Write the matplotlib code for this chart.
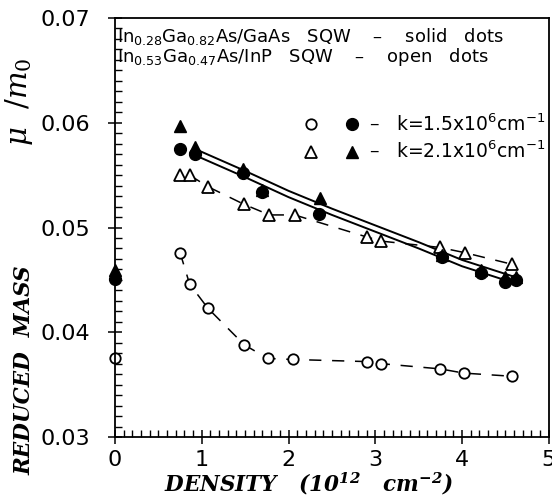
import numpy as np
import matplotlib
matplotlib.use("Agg")
import matplotlib.pyplot as plt
from matplotlib.ticker import MultipleLocator
from matplotlib.legend_handler import HandlerTuple

plt.rcParams['font.family'] = ['DejaVu Sans']
plt.rcParams['mathtext.fontset'] = 'dejavuserif'

# InGaAs/GaAs SQW (solid dots)
x_solid_c = [0.0, 0.75, 0.92, 1.47, 1.70, 2.35, 3.77, 4.22, 4.50, 4.62]
y_solid_c = [0.0451, 0.0575, 0.0570, 0.0552, 0.0534, 0.0513, 0.0472, 0.0457, 0.0448, 0.0450]
x_solid_t = [0.0, 0.75, 0.92, 1.47, 1.70, 2.36, 3.77, 4.22, 4.50, 4.62]
y_solid_t = [0.0459, 0.0597, 0.0577, 0.0556, 0.0536, 0.0528, 0.0474, 0.0459, 0.0453, 0.0453]

# InGaAs/InP SQW (open dots)
x_open_c = [0.0, 0.75, 0.86, 1.07, 1.49, 1.76, 2.05, 2.90, 3.07, 3.75, 4.02, 4.57]
y_open_c = [0.0375, 0.0476, 0.0446, 0.0423, 0.0388, 0.0375, 0.0374, 0.0372, 0.0370, 0.0365, 0.0361, 0.0358]
x_open_t = [0.75, 0.86, 1.07, 1.49, 1.78, 2.07, 2.90, 3.07, 3.74, 4.03, 4.57]
y_open_t = [0.0550, 0.0550, 0.0539, 0.0522, 0.0512, 0.0512, 0.0491, 0.0487, 0.0481, 0.0476, 0.0465]

# theory curves (solid lines)
x_curve = [0.95, 1.5, 2.0, 2.5, 3.0, 3.5, 4.0, 4.6]
y_curve_hi = [0.0574, 0.0554, 0.0535, 0.0518, 0.0502, 0.0486, 0.0469, 0.0453]
y_curve_lo = [0.0568, 0.0548, 0.0529, 0.0512, 0.0496, 0.0480, 0.0463, 0.0447]

fig = plt.figure(figsize=(5.52, 5.0), dpi=100)
ax = fig.add_axes([0.2083, 0.126, 0.786, 0.838])

ax.plot(x_curve, y_curve_hi, '-', color='black', lw=1.4)
ax.plot(x_curve, y_curve_lo, '-', color='black', lw=1.4)
ax.plot(x_open_c[1:], y_open_c[1:], '--', color='black', lw=1.1, dashes=(8, 7))
ax.plot(x_open_t[1:], y_open_t[1:], '--', color='black', lw=1.1, dashes=(8, 7))

oc, = ax.plot(x_open_c, y_open_c, 'o', ms=7.5, mfc='white', mec='black', mew=1.3, ls='none', clip_on=False)
ot, = ax.plot(x_open_t, y_open_t, '^', ms=9, mfc='white', mec='black', mew=1.3, ls='none', clip_on=False)
st, = ax.plot(x_solid_t, y_solid_t, '^', ms=9, color='black', ls='none', clip_on=False)
sc, = ax.plot(x_solid_c, y_solid_c, 'o', ms=8.5, color='black', ls='none', clip_on=False)

ax.set_xlim(0, 5)
ax.set_ylim(0.03, 0.07)
ax.xaxis.set_major_locator(MultipleLocator(1))
ax.xaxis.set_minor_locator(MultipleLocator(0.1))
ax.yaxis.set_major_locator(MultipleLocator(0.01))
ax.yaxis.set_minor_locator(MultipleLocator(0.001))
ax.xaxis.set_major_formatter(plt.FuncFormatter(lambda v, p: '%d' % v))
ax.yaxis.set_major_formatter(plt.FuncFormatter(lambda v, p: '%.2f' % v))
ax.tick_params(which='major', direction='inout', length=10, width=1.1, labelsize=16)
ax.tick_params(axis='y', which='major', pad=13)
ax.tick_params(axis='x', which='major', pad=4)
ax.tick_params(which='minor', direction='in', length=5, width=1.0)
for s in ax.spines.values():
    s.set_linewidth(1.3)

ax.text(0.004, 0.942, 'In$\\mathregular{_{0.28}}$Ga$\\mathregular{_{0.82}}$As/GaAs   SQW    \u2013    solid   dots',
        transform=ax.transAxes, fontsize=13, va='baseline')
ax.text(0.004, 0.895, 'In$\\mathregular{_{0.53}}$Ga$\\mathregular{_{0.47}}$As/InP   SQW    \u2013    open   dots',
        transform=ax.transAxes, fontsize=13, va='baseline')

leg = ax.legend([(oc, sc), (ot, st)],
                ['\u2013   k=1.5x10$\\mathregular{^6}$cm$\\mathregular{^{-1}}$',
                 '\u2013   k=2.1x10$\\mathregular{^6}$cm$\\mathregular{^{-1}}$'],
                handler_map={tuple: HandlerTuple(ndivide=None, pad=1.6)},
                loc='upper right', bbox_to_anchor=(1.01, 0.79), frameon=False,
                fontsize=13.5, handlelength=2.8, handletextpad=0.6, labelspacing=0.3,
                borderaxespad=0)

serif = dict(family='DejaVu Serif', weight='bold', style='italic', fontsize=15.5)
ax.set_xlabel('DENSITY   (10$\\mathregular{^{12}}$   cm$\\mathregular{^{-2}}$)', **serif)
ax.xaxis.set_label_coords(0.447, -0.08)
ax.set_ylabel('REDUCED  MASS', **serif)
ax.yaxis.set_label_coords(-0.184, 0.16)
ax.text(-0.184, 0.80, '$\\mu\\ \\ /m_0$', transform=ax.transAxes, rotation=90,
        fontsize=21, ha='right', va='center')

fig.savefig('out.png', dpi=100)
